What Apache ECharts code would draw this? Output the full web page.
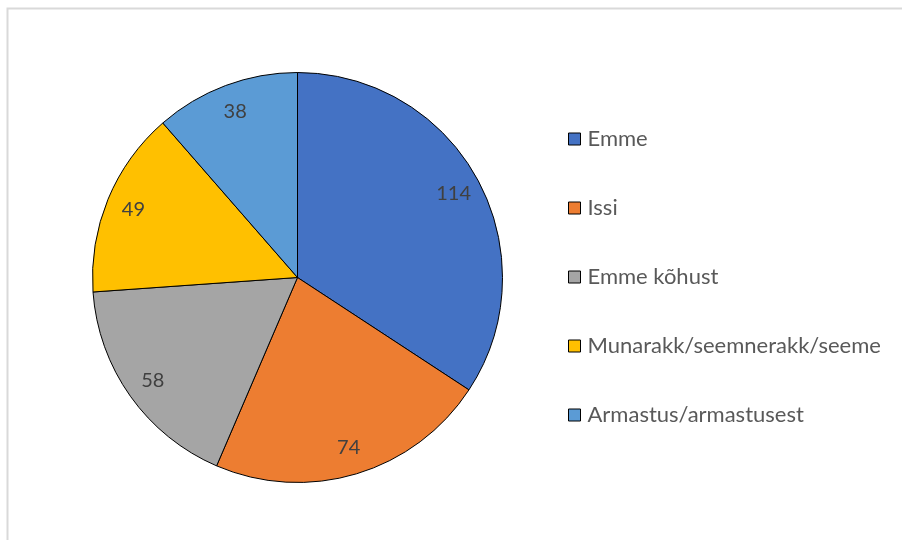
<!DOCTYPE html>
<html>
<head>
<meta charset="utf-8">
<script src="https://cdn.jsdelivr.net/npm/echarts@6/dist/echarts.min.js"></script>
<style>
html, body { margin: 0; padding: 0; background: #fff; }
#main { width: 902px; height: 540px; }
</style>
</head>
<body>
<div id="main"></div>
<script>
// andmed
var categories = ['Emme', 'Issi', 'Emme kõhust', 'Munarakk/seemnerakk/seeme', 'Armastus/armastusest'];
var values = [114, 74, 58, 49, 38];
var colors = ['#4472C4', '#ED7D31', '#A5A5A5', '#FFC000', '#5B9BD5'];

var myChart = echarts.init(document.getElementById('main'));

function pieData() {
	var out = [];
	for (var i = 0; i < categories.length; i++) {
		out.push({ name: categories[i], value: values[i] });
	}
	return out;
}

var option = {
	backgroundColor: '#ffffff',
	color: colors,
	animation: false,
	graphic: [{
		type: 'rect',
		shape: { x: 7.5, y: 8.5, width: 1000, height: 1000 },
		style: { fill: 'none', stroke: '#d9d9d9', lineWidth: 2 },
		silent: true
	}],
	legend: {
		orient: 'vertical',
		left: 563,
		top: 123,
		data: categories,
		icon: 'rect',
		itemWidth: 12,
		itemHeight: 12,
		itemGap: 47,
		itemStyle: { borderColor: '#000', borderWidth: 1 },
		textStyle: { fontFamily: 'Lato', fontSize: 22, lineHeight: 22, color: '#595959', padding: [0, 0, 0, 2] }
	},
	series: [{
		name: 'main',
		type: 'pie',
		center: [297.5, 277.5],
		radius: [0, 205],
		startAngle: 90,
		clockwise: true,
		label: { show: false },
		labelLine: { show: false },
		itemStyle: { borderColor: '#000', borderWidth: 1 },
		emphasis: { disabled: true },
		data: pieData()
	}, {
		name: 'labels',
		type: 'pie',
		center: [297.5, 277.5],
		radius: [144, 205],
		startAngle: 90,
		clockwise: true,
		silent: true,
		itemStyle: { color: 'transparent', borderWidth: 0 },
		label: {
			show: true,
			position: 'inside',
			formatter: '{c}',
			fontFamily: 'Lato',
			fontSize: 20,
			color: '#404040'
		},
		labelLine: { show: false },
		emphasis: { disabled: true },
		data: pieData()
	}]
};
myChart.setOption(option, true);
</script>
</body>
</html>
